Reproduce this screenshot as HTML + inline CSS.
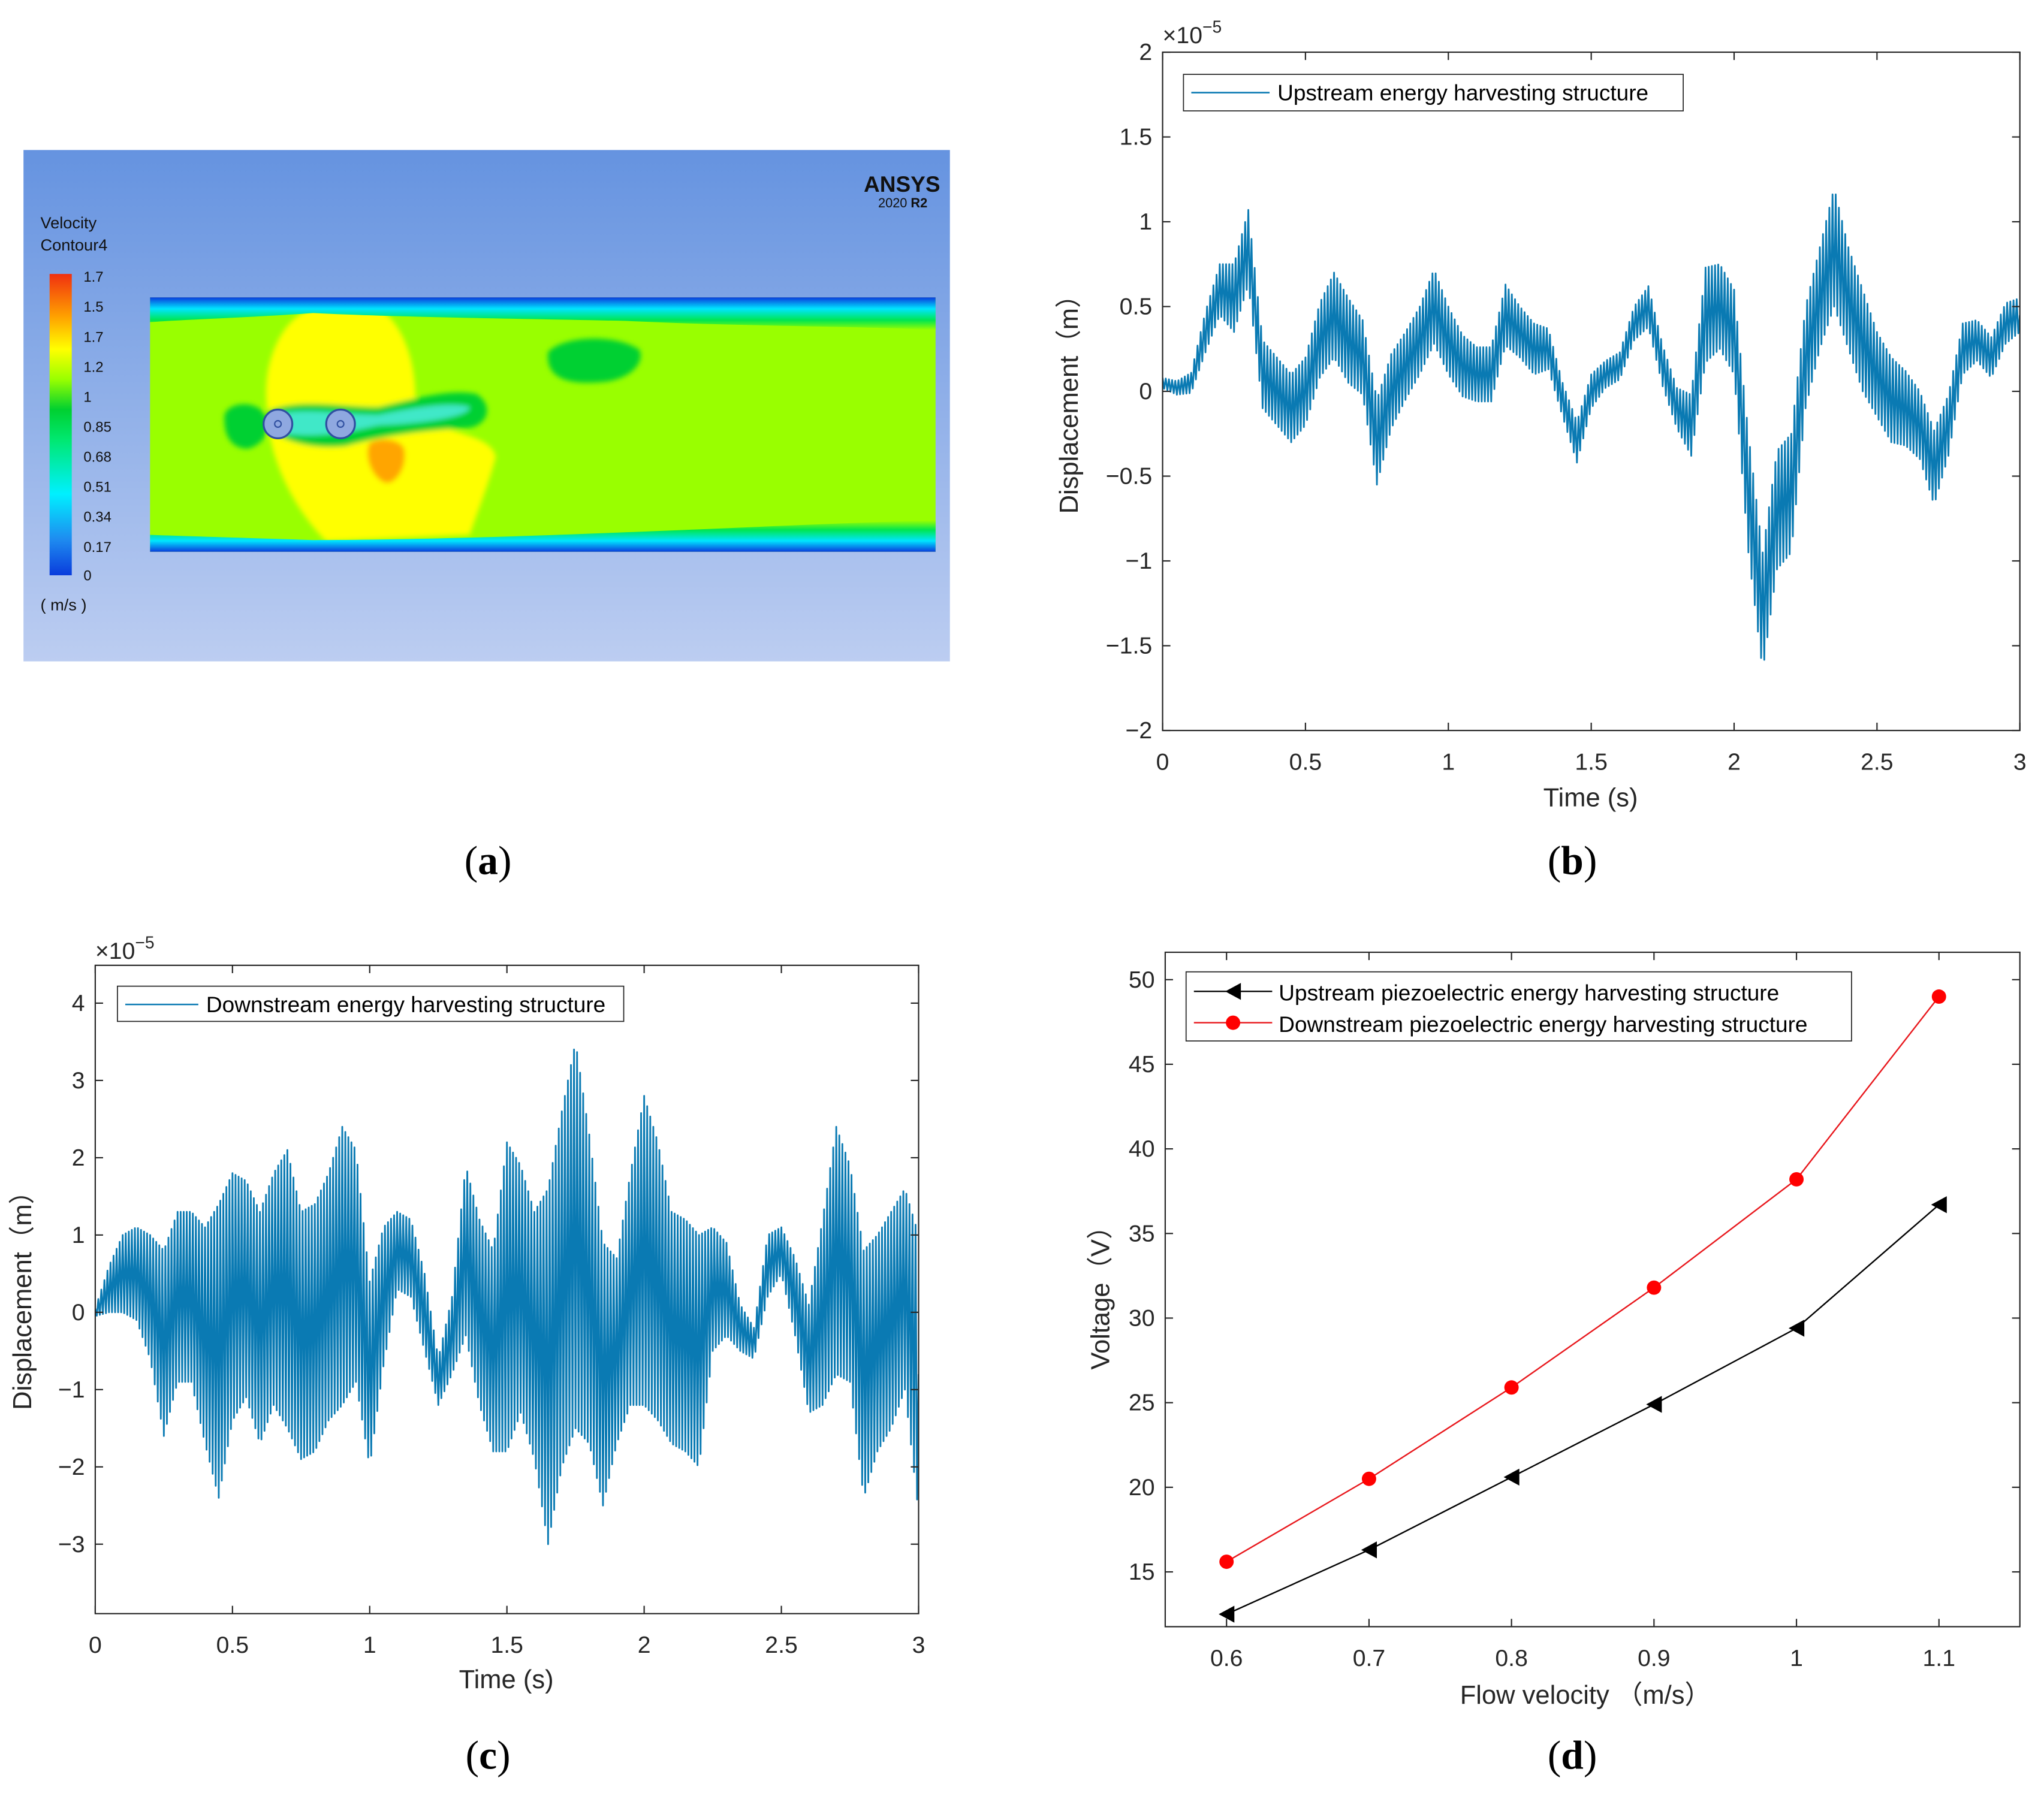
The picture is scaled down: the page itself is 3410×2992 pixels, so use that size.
<!DOCTYPE html>
<html><head><meta charset="utf-8"><style>
html,body{margin:0;padding:0;background:#fff}
svg{display:block}
text{font-family:"Liberation Sans",sans-serif}
.tick{font-size:18px;fill:#262626}
.lab{font-size:20px;fill:#262626}
.leg{font-size:17px;fill:#000}
.cap{font-family:"Liberation Serif",serif;font-size:31px;fill:#000}
.ct{font-family:"Liberation Sans",sans-serif;font-size:12.5px;fill:#111}
</style></head><body>
<svg id="root" width="3410" height="2992" viewBox="0 0 1566.5 1374.5" preserveAspectRatio="none" xmlns="http://www.w3.org/2000/svg">
<defs>
<linearGradient id="bg" x1="0" y1="0" x2="0" y2="1"><stop offset="0" stop-color="#6593e0"/><stop offset="1" stop-color="#bccdf1"/></linearGradient>
<linearGradient id="topband" x1="0" y1="0" x2="0" y2="1"><stop offset="0" stop-color="#0a3cdc"/><stop offset="0.35" stop-color="#00e5ff"/><stop offset="0.7" stop-color="#00e650"/><stop offset="1" stop-color="#99ff00"/></linearGradient>
<linearGradient id="botband" x1="0" y1="1" x2="0" y2="0"><stop offset="0" stop-color="#0a3cdc"/><stop offset="0.35" stop-color="#00e5ff"/><stop offset="0.7" stop-color="#00e650"/><stop offset="1" stop-color="#99ff00"/></linearGradient>
<linearGradient id="cbar" x1="0" y1="1" x2="0" y2="0"><stop offset="0" stop-color="#0a3cdc"/><stop offset="0.12" stop-color="#1e8cf0"/><stop offset="0.27" stop-color="#00f0ff"/><stop offset="0.45" stop-color="#00e870"/><stop offset="0.55" stop-color="#00d030"/><stop offset="0.65" stop-color="#99ff00"/><stop offset="0.75" stop-color="#ffff00"/><stop offset="0.86" stop-color="#ffa000"/><stop offset="1" stop-color="#f03010"/></linearGradient>
<filter id="blur"><feGaussianBlur stdDeviation="2"/></filter>
<clipPath id="clipB"><rect x="891" y="40" width="657" height="520"/></clipPath>
<clipPath id="clipC"><rect x="73" y="740" width="631" height="497"/></clipPath>
</defs>

<!-- Panel (a) -->
<g>
<rect x="18" y="115" width="710" height="392" fill="url(#bg)"/>
<text x="662" y="147" style="font-family:'Liberation Sans',sans-serif;font-weight:bold;font-size:17px" fill="#111">ANSYS</text>
<text x="673" y="159" style="font-size:10px" fill="#111">2020 <tspan font-weight="bold">R2</tspan></text>
<text x="31" y="175" class="ct">Velocity</text>
<text x="31" y="192" class="ct">Contour4</text>
<rect x="38" y="210" width="17" height="231" fill="url(#cbar)"/>
<g class="ct" style="font-size:11px">
<text x="64" y="216">1.7</text><text x="64" y="239">1.5</text><text x="64" y="262">1.7</text><text x="64" y="285">1.2</text><text x="64" y="308">1</text><text x="64" y="331">0.85</text><text x="64" y="354">0.68</text><text x="64" y="377">0.51</text><text x="64" y="400">0.34</text><text x="64" y="423">0.17</text><text x="64" y="445">0</text>
</g>
<text x="31" y="468" class="ct">( m/s )</text>
<g>
<rect x="115" y="228" width="602" height="195" fill="#99ff00"/>
<g filter="url(#blur)">
<path d="M205,315 C200,285 212,245 240,236 L290,236 C312,250 320,285 318,312 C335,335 375,330 380,350 C375,370 365,395 360,410 L250,415 C225,390 205,350 205,315 Z" fill="#ffff00"/>
<path d="M283,340 C290,335 308,336 310,345 C312,360 302,372 295,370 C285,366 279,350 283,340 Z" fill="#ffa500"/>
<path d="M420,270 C430,258 470,255 490,268 C495,280 480,292 460,293 C435,295 418,290 420,270 Z" fill="#00d030"/>
<path d="M172,322 C170,310 190,306 200,314 C210,325 205,340 190,344 C178,344 172,335 172,322 Z" fill="#00d030"/>
<path d="M205,315 C230,305 260,312 290,312 C320,305 345,298 365,302 C378,310 375,325 360,328 C320,330 290,335 265,342 C240,345 215,338 205,328 Z" fill="#00d030"/>
<path d="M210,318 C235,312 260,318 290,318 C320,312 345,308 360,312 C360,320 320,325 290,326 C265,332 240,336 215,332 Z" fill="#40e8c8"/>
</g>
<path d="M115,228 H717 V253 C660,250 560,250 480,246 C380,244 300,243 240,240 C180,244 140,245 115,247 Z" fill="url(#topband)"/>
<path d="M115,423 H717 V399 C660,400 560,405 480,408 C380,412 300,414 240,414 C180,412 140,411 115,410 Z" fill="url(#botband)"/>
<circle cx="213" cy="325" r="11" fill="#8fa8e0" stroke="#3050a0" stroke-width="1.5"/><circle cx="213" cy="325" r="2.5" fill="none" stroke="#3050a0"/>
<circle cx="261" cy="325" r="11" fill="#8fa8e0" stroke="#3050a0" stroke-width="1.5"/><circle cx="261" cy="325" r="2.5" fill="none" stroke="#3050a0"/>
</g>
</g>
<text x="374" y="670" class="cap" text-anchor="middle">(<tspan font-weight="bold">a</tspan>)</text>

<g id="panelB"></g>
<text x="1205" y="670" class="cap" text-anchor="middle">(<tspan font-weight="bold">b</tspan>)</text>
<g id="panelC"></g>
<text x="374" y="1356" class="cap" text-anchor="middle">(<tspan font-weight="bold">c</tspan>)</text>
<g id="panelD"></g>
<text x="1205" y="1356" class="cap" text-anchor="middle">(<tspan font-weight="bold">d</tspan>)</text>
</svg>
<script>
// ---- data ----
const timeStep = 0.05;
const upMid = [0.05,0.02,0.05,0.35,0.6,0.55,0.85,0.1,0.0,-0.1,0.0,0.3,0.45,0.3,0.2,-0.3,0.0,0.15,0.3,0.5,0.3,0.15,0.1,0.1,0.45,0.35,0.25,0.25,-0.05,-0.3,0.0,0.1,0.15,0.4,0.5,0.15,-0.1,-0.2,0.45,0.5,0.35,-0.6,-1.3,-0.7,-0.6,0.2,0.55,0.85,0.55,0.3,0.1,-0.05,-0.1,-0.2,-0.45,-0.2,0.25,0.3,0.2,0.4,0.45];
const upAmp = [0.03,0.04,0.06,0.12,0.15,0.2,0.22,0.2,0.2,0.2,0.2,0.22,0.25,0.25,0.22,0.25,0.22,0.2,0.2,0.22,0.2,0.18,0.16,0.16,0.18,0.15,0.15,0.12,0.1,0.12,0.1,0.08,0.08,0.1,0.12,0.12,0.12,0.18,0.28,0.25,0.25,0.35,0.35,0.35,0.35,0.3,0.3,0.35,0.3,0.3,0.25,0.25,0.22,0.2,0.22,0.18,0.15,0.12,0.12,0.12,0.1];
const dnMid = [0,0.3,0.5,0.5,0.2,-0.4,0.2,0.2,-0.3,-0.5,0.2,0.3,-0.2,0.3,0.3,-0.3,-0.2,0.2,0.6,0.6,-0.8,0.2,0.8,0.7,0.0,-0.9,-0.3,0.8,0.0,-0.5,0.2,0.3,-0.3,-0.7,0.3,1.0,0.3,-0.8,-0.5,0.3,0.8,0.4,-0.2,-0.3,-0.5,0.3,0.3,-0.2,-0.4,0.6,0.8,0.2,-0.6,0.0,0.8,0.5,-0.8,-0.4,-0.1,0.3,-0.8];
const dnAmp = [0.05,0.3,0.5,0.6,0.8,1.2,1.1,1.1,1.4,1.9,1.6,1.4,1.5,1.5,1.8,1.6,1.6,1.6,1.8,1.5,1.2,0.9,0.5,0.5,0.5,0.3,0.5,1.1,1.2,1.3,2.0,1.6,1.6,2.3,2.3,2.5,2.0,1.7,1.2,1.5,2.0,1.8,1.5,1.5,1.5,0.8,0.6,0.3,0.2,0.4,0.3,0.5,0.7,1.2,1.6,1.4,1.6,1.4,1.4,1.3,1.8];
const velocity = [0.6,0.7,0.8,0.9,1.0,1.1];
const upVolt = [12.5,16.3,20.6,24.9,29.4,36.7];
const dnVolt = [15.6,20.5,25.9,31.8,38.2,49.0];
const bYTicks = [2,1.5,1,0.5,0,-0.5,-1,-1.5,-2];
const bYLabels = ["2","1.5","1","0.5","0","\u22120.5","\u22121","\u22121.5","\u22122"];
const cYTicks = [4,3,2,1,0,-1,-2,-3];
const cYLabels = ["4","3","2","1","0","\u22121","\u22122","\u22123"];
const tTicks = [0,0.5,1,1.5,2,2.5,3];
const tLabels = ["0","0.5","1","1.5","2","2.5","3"];
const dXTicks = [0.6,0.7,0.8,0.9,1.0,1.1];
const dXLabels = ["0.6","0.7","0.8","0.9","1","1.1"];
const dYTicks = [15,20,25,30,35,40,45,50];

const NS = "http://www.w3.org/2000/svg";
function mk(parent, tag, attrs, txt){
  const e = document.createElementNS(NS, tag);
  for (const k in attrs) e.setAttribute(k, attrs[k]);
  if (txt !== undefined) e.textContent = txt;
  parent.appendChild(e); return e;
}
function lin(d0,d1,r0,r1){ return v => r0 + (v-d0)/(d1-d0)*(r1-r0); }

function axesBox(g, L,T,R,B, xs, ys, xt, xl, yt, yl){
  const box = mk(g,'rect',{x:L,y:T,width:R-L,height:B-T,fill:'none',stroke:'#262626','stroke-width':1});
  
  
  xt.forEach((v,i)=>{
    const x = xs(v);
    mk(g,'line',{x1:x,y1:B,x2:x,y2:B-6,stroke:'#262626'});
    mk(g,'line',{x1:x,y1:T,x2:x,y2:T+6,stroke:'#262626'});
    const t = mk(g,'text',{x:x,y:B+30,'text-anchor':'middle',class:'tick'}, xl[i]);
    
    
  });
  yt.forEach((v,i)=>{
    const y = ys(v);
    mk(g,'line',{x1:L,y1:y,x2:L+6,y2:y,stroke:'#262626'});
    mk(g,'line',{x1:R,y1:y,x2:R-6,y2:y,stroke:'#262626'});
    const t = mk(g,'text',{x:L-8,y:y+6,'text-anchor':'end',class:'tick'}, yl[i]);
    
    
  });
}

function drawSignal(g, mid, amp, xs, ys, clip){
  const sub = 9; let d = '';
  for (let i=0;i<mid.length-1;i++){
    for (let k=0;k<sub;k++){
      const f = k/sub;
      const m = mid[i]+(mid[i+1]-mid[i])*f;
      const a = amp[i]+(amp[i+1]-amp[i])*f;
      const v = m + ((i*sub+k)%2===0 ? a : -a);
      const t = (i+f)*timeStep;
      d += (d?'L':'M') + xs(t).toFixed(2)+','+ys(v).toFixed(2);
    }
  }
  const n = mid.length-1;
  d += 'L'+xs(n*timeStep).toFixed(2)+','+ys(mid[n]).toFixed(2);
  const p = mk(g,'path',{d:d,fill:'none',stroke:'#0a7ab3','stroke-width':1.3,'clip-path':clip,'stroke-linejoin':'round'});
  
  
}

// ---- panel b ----
(function(){
  const g = document.getElementById('panelB');
  const L=891,T=40,R=1548,B=560;
  const xs = lin(0,3,L,R), ys = lin(-2,2,B,T);
  drawSignal(g, upMid, upAmp, xs, ys, 'url(#clipB)');
  axesBox(g,L,T,R,B,xs,ys,tTicks,tLabels,bYTicks,bYLabels);
  const e = mk(g,'text',{x:891,y:33,class:'tick'}); e.innerHTML='\u00d710<tspan dy="-8" font-size="13">\u22125</tspan>';
   
  const lg = mk(g,'g',{});  
  mk(lg,'rect',{x:907,y:57,width:383,height:28,fill:'#fff',stroke:'#262626','stroke-width':0.8});
  mk(lg,'line',{x1:913,y1:71,x2:973,y2:71,stroke:'#0a7ab3','stroke-width':1.2});
  mk(lg,'text',{x:979,y:77,class:'leg'},'Upstream energy harvesting structure');
  const xl = mk(g,'text',{x:1219,y:618,'text-anchor':'middle',class:'lab'},'Time (s)');
   
  const yl = mk(g,'text',{x:826,y:305,'text-anchor':'middle',class:'lab',transform:'rotate(-90 826 305)'},'Displacement\uff08m\uff09');
   
})();

// ---- panel c ----
(function(){
  const g = document.getElementById('panelC');
  const L=73,T=740,R=704,B=1237;
  const xs = lin(0,3,L,R), ys = lin(0,4,1006,769);
  drawSignal(g, dnMid, dnAmp, xs, ys, 'url(#clipC)');
  axesBox(g,L,T,R,B,xs,ys,tTicks,tLabels,cYTicks,cYLabels);
  const e = mk(g,'text',{x:73,y:735,class:'tick'}); e.innerHTML='\u00d710<tspan dy="-8" font-size="13">\u22125</tspan>';
   
  const lg = mk(g,'g',{});  
  mk(lg,'rect',{x:90,y:756,width:388,height:27,fill:'#fff',stroke:'#262626','stroke-width':0.8});
  mk(lg,'line',{x1:96,y1:770,x2:152,y2:770,stroke:'#0a7ab3','stroke-width':1.2});
  mk(lg,'text',{x:158,y:776,class:'leg'},'Downstream energy harvesting structure');
  const xl = mk(g,'text',{x:388,y:1294,'text-anchor':'middle',class:'lab'},'Time (s)');
   
  const yl = mk(g,'text',{x:24,y:992,'text-anchor':'middle',class:'lab',transform:'rotate(-90 24 992)'},'Displacement\uff08m\uff09');
   
})();

// ---- panel d ----
(function(){
  const g = document.getElementById('panelD');
  const L=893,T=730,R=1548,B=1247;
  const xs = lin(0.6,1.1,940,1486), ys = lin(15,50,1205,751);
  axesBox(g,L,T,R,B,xs,ys,dXTicks,dXLabels,dYTicks,dYTicks.map(String));
  const up = mk(g,'path',{d:velocity.map((v,i)=>(i?'L':'M')+xs(v)+','+ys(upVolt[i])).join(''),fill:'none',stroke:'#000','stroke-width':1.1});
   
  const dn = mk(g,'path',{d:velocity.map((v,i)=>(i?'L':'M')+xs(v)+','+ys(dnVolt[i])).join(''),fill:'none',stroke:'#e8161b','stroke-width':1.1});
   
  velocity.forEach((v,i)=>{
    const x=xs(v), y=ys(upVolt[i]);
    const m = mk(g,'path',{d:`M${x-6},${y}L${x+6},${y-6.5}L${x+6},${y+6.5}Z`,fill:'#000'});
     
    const c = mk(g,'circle',{cx:x,cy:ys(dnVolt[i]),r:5.5,fill:'#ff0000'});
     
  });
  const lg = mk(g,'g',{});  
  mk(lg,'rect',{x:909,y:745,width:510,height:53,fill:'#fff',stroke:'#262626','stroke-width':0.8});
  mk(lg,'line',{x1:915,y1:760,x2:975,y2:760,stroke:'#000','stroke-width':1.1});
  mk(lg,'path',{d:'M939,760L951,753.5L951,766.5Z',fill:'#000'});
  mk(lg,'text',{x:980,y:767,class:'leg'},'Upstream piezoelectric energy harvesting structure');
  mk(lg,'line',{x1:915,y1:784,x2:975,y2:784,stroke:'#e8161b','stroke-width':1.1});
  mk(lg,'circle',{cx:945,cy:784,r:5.5,fill:'#ff0000'});
  mk(lg,'text',{x:980,y:791,class:'leg'},'Downstream piezoelectric energy harvesting structure');
  const xl = mk(g,'text',{x:1215,y:1306,'text-anchor':'middle',class:'lab'},'Flow velocity \uff08m/s\uff09');
   
  const yl = mk(g,'text',{x:850,y:990,'text-anchor':'middle',class:'lab',transform:'rotate(-90 850 990)'},'Voltage\uff08V\uff09');
   
})();
</script>
</body></html>
